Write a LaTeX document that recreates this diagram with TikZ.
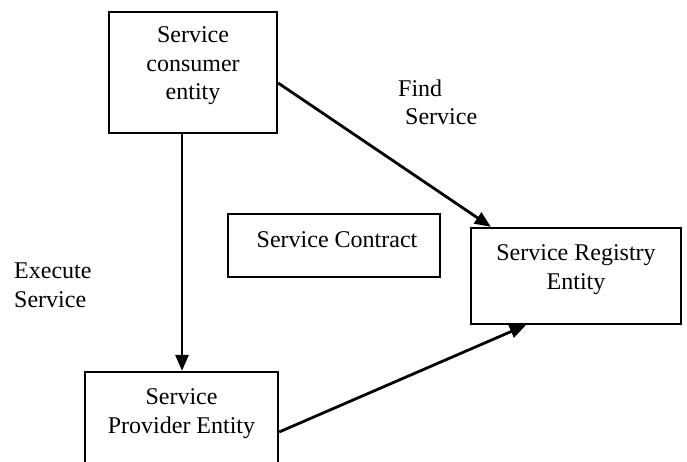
\documentclass[tikz,border=0pt]{standalone}
\usepackage{fontspec}
\setmainfont{Liberation Serif}
\usetikzlibrary{arrows.meta}
\begin{document}
\begin{tikzpicture}[x=1pt,y=-1pt,
  box/.style={draw,line width=2.3pt,inner sep=0pt,minimum width=#1},
  lbl/.style={font=\fontsize{24}{28.5}\selectfont,inner sep=0pt,align=center,anchor=base},
  conn/.style={line width=2.8pt,-{Triangle[length=16pt,width=13pt]}}]
\clip (0,0) rectangle (687,462);
\fill[white] (0,0) rectangle (687,462);
% boxes
\node[box=168pt,minimum height=121pt] (cons) at (193,72.5) {};
\node[box=193pt,minimum height=108pt] (prov) at (181.5,426) {};
\node[box=212pt,minimum height=63pt] (contr) at (334,245.5) {};
\node[box=210pt,minimum height=96pt] (reg) at (576,276) {};
% texts (anchor base = baseline of the last line)
\node[lbl] (tcons) at (193,100) {Service\\consumer\\entity};
\node[lbl] (tprov) at (181.5,433) {Service\\Provider Entity};
\node[lbl] (tcontr) at (337,247) {Service Contract};
\node[lbl] (treg) at (576,289) {Service Registry\\Entity};
\node[lbl,align=left,anchor=base west] (tfind) at (398,125) {Find\\\hspace*{7pt}Service};
\node[lbl,align=left,anchor=base west] (texec) at (14,307) {Execute\\Service};
% connectors
\draw[conn] ([yshift=-10.5pt]cons.east) -- ([xshift=21pt]reg.north west);
\draw[conn] ([xshift=-11pt]cons.south) -- ([xshift=0.5pt]prov.north);
\draw[conn] ([yshift=-6pt]prov.east) -- ([xshift=56pt]reg.south west);
\end{tikzpicture}
\end{document}
